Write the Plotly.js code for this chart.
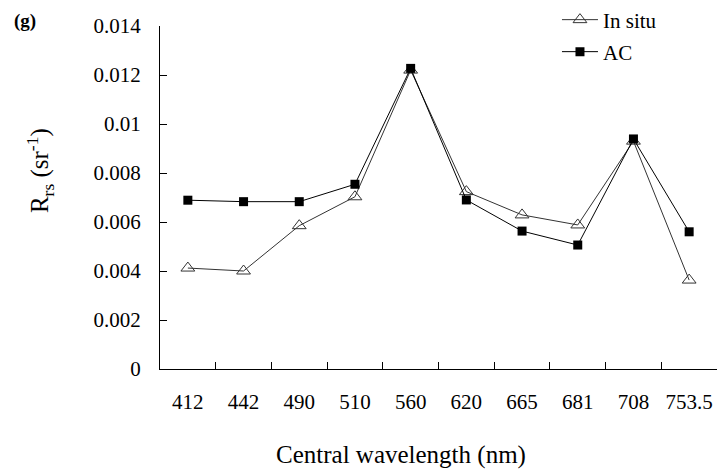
<!DOCTYPE html>
<html>
<head>
<meta charset="utf-8">
<script src="https://cdn.plot.ly/plotly-3.0.1.min.js"></script>
<style>html,body{margin:0;padding:0;background:#fff;}#chart{width:720px;height:472px;}</style>
</head>
<body>
<div id="chart"></div>
<script>
const categories = ['412','442','490','510','560','620','665','681','708','753.5'];
const inSitu = [0.00412, 0.00400, 0.00585, 0.00703, 0.01220, 0.00724, 0.00629, 0.00588, 0.00930, 0.00363];
const ac     = [0.00689, 0.00683, 0.00683, 0.00754, 0.01227, 0.00690, 0.00563, 0.00506, 0.00939, 0.00560];
const yTickVals = [0, 0.002, 0.004, 0.006, 0.008, 0.01, 0.012, 0.014];
const yTickText = ['0', '0.002', '0.004', '0.006', '0.008', '0.01', '0.012', '0.014'];

const FONT = 'Liberation Serif';

const traces = [
  {
    x: categories, y: inSitu, name: 'In situ', type: 'scatter', mode: 'lines+markers',
    line: {color: '#333333', width: 1},
    marker: {symbol: 'triangle-up-open', size: 12, color: '#333333', line: {color: '#333333', width: 1}},
    legend: 'legend'
  },
  {
    x: categories, y: ac, name: 'AC', type: 'scatter', mode: 'lines+markers',
    line: {color: '#000000', width: 1},
    marker: {symbol: 'square', size: 9, color: '#000000'},
    legend: 'legend2'
  }
];

const layout = {
  width: 720, height: 472,
  margin: {l: 160, r: 3, t: 26, b: 103, autoexpand: false},
  paper_bgcolor: '#ffffff', plot_bgcolor: '#ffffff',
  font: {family: FONT, size: 21, color: '#000'},
  showlegend: true,
  legend: {x: 0.7127, y: 1.0175, xanchor: 'left', yanchor: 'middle', bgcolor: 'rgba(0,0,0,0)',
           font: {family: FONT, size: 21, color: '#000'}, itemwidth: 36},
  legend2: {x: 0.7127, y: 0.9242, xanchor: 'left', yanchor: 'middle', bgcolor: 'rgba(0,0,0,0)',
           font: {family: FONT, size: 21, color: '#000'}, itemwidth: 36},
  xaxis: {
    type: 'category', range: [-0.5, 9.5], automargin: false,
    showline: true, linecolor: '#000', linewidth: 1,
    ticks: 'inside', ticklen: 7, tickcolor: '#000', tickson: 'boundaries',
    showgrid: false, zeroline: false, tickangle: 0,
    tickfont: {family: FONT, size: 21, color: '#000'},
    ticklabelstandoff: 14
  },
  yaxis: {
    range: [0, 0.014], tickvals: yTickVals, ticktext: yTickText, automargin: false,
    showline: true, linecolor: '#000', linewidth: 1,
    ticks: 'inside', ticklen: 7, tickcolor: '#000',
    showgrid: false, zeroline: false,
    tickfont: {family: FONT, size: 21, color: '#000'},
    ticklabelstandoff: 14
  },
  annotations: [
    {text: 'R<sub>rs</sub> (sr<sup>-1</sup>)', xref: 'paper', yref: 'paper', x: -0.2154, y: 0.577,
     xanchor: 'center', yanchor: 'middle', textangle: -90, showarrow: false,
     font: {family: FONT, size: 25, color: '#000'}},
    {text: 'Central wavelength (nm)', xref: 'paper', yref: 'paper', x: 0.4327, y: -0.2507,
     xanchor: 'center', yanchor: 'middle', showarrow: false,
     font: {family: FONT, size: 25, color: '#000'}},
    {text: '<b>(g)</b>', xref: 'paper', yref: 'paper', x: -0.2424, y: 1.0146,
     xanchor: 'center', yanchor: 'middle', showarrow: false,
     font: {family: FONT, size: 19, color: '#000'}}
  ]
};

Plotly.newPlot('chart', traces, layout, {displayModeBar: false, staticPlot: true});
</script>
</body>
</html>
